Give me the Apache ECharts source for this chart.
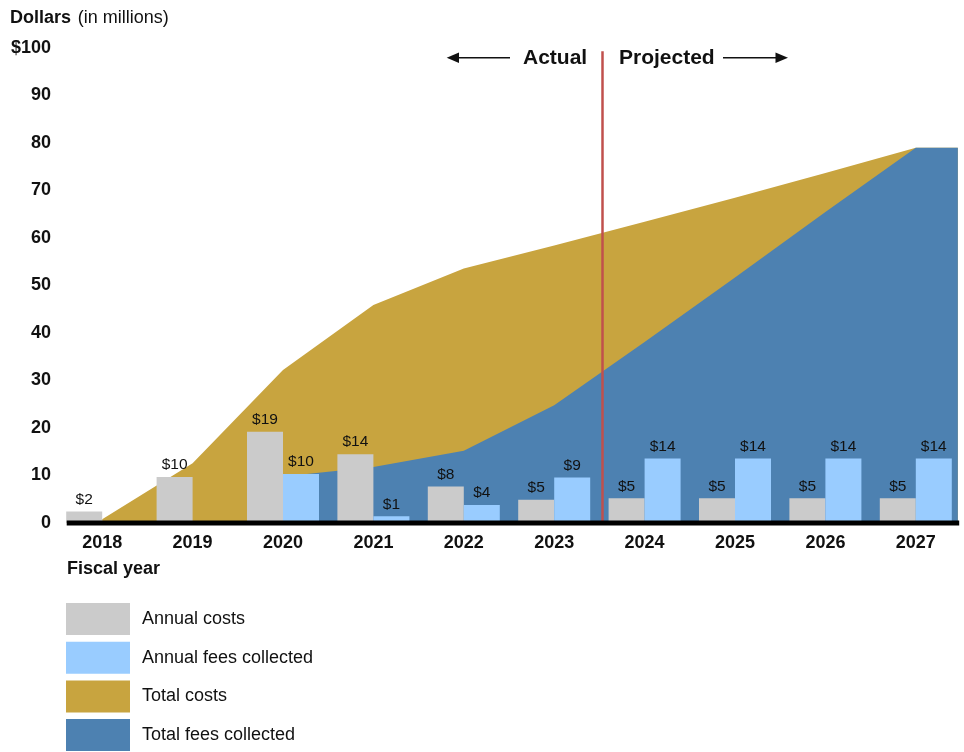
<!DOCTYPE html>
<html>
<head>
<meta charset="utf-8">
<script src="https://cdn.jsdelivr.net/npm/echarts@6/dist/echarts.min.js"></script>
<style>
html,body{margin:0;padding:0;background:#fff;}
#chart{width:964px;height:752px;}
</style>
</head>
<body>
<div id="chart"></div>
<script>
// ---- data ----
var years = ['2018','2019','2020','2021','2022','2023','2024','2025','2026','2027'];
var annualCosts = [2.4, 9.7, 19.2, 14.5, 7.7, 4.9, 5.2, 5.2, 5.2, 5.2];
var annualCostLabels = ['$2','$10','$19','$14','$8','$5','$5','$5','$5','$5'];
var annualFees = [null, null, 10.3, 1.4, 3.8, 9.6, 13.6, 13.6, 13.6, 13.6];
var annualFeeLabels = ['','','$10','$1','$4','$9','$14','$14','$14','$14'];
var totalCosts = [0.8, 12.6, 32.2, 45.9, 53.6, 58.4, 63.4, 68.5, 73.7, 79];
var totalFees = [null, null, 9.8, 11.8, 15.2, 24.8, 38.1, 51.7, 65.5, 79];
var yTicks = [0,10,20,30,40,50,60,70,80,90,100];
var areaEndX = 9.465;      // areas run flat past the last year to the right edge
var splitX = 5.535;        // Actual / Projected divider

var FONT = 'Liberation Sans, Arial, sans-serif';
var C_GRAY = '#cbcbcb', C_LBLUE = '#99ccff', C_GOLD = '#c8a43f', C_BLUE = '#4d81b1', C_RED = '#c0504d';

function toPairs(arr){
  var out = [];
  arr.forEach(function(v,i){ if(v!==null) out.push([i,v]); });
  out.push([areaEndX, arr[arr.length-1]]);
  return out;
}

var chart = echarts.init(document.getElementById('chart'), null, {renderer:'canvas'});
var option = {
  animation:false,
  backgroundColor:'#fff',
  grid:{left:57, right:3, top:48, bottom:229, containLabel:false},
  legend:{
    orient:'vertical', left:66, top:603, itemWidth:64, itemHeight:32, itemGap:6.7,
    padding:0, icon:'rect', selectedMode:false,
    textStyle:{fontFamily:FONT, fontSize:18, color:'#111', padding:[6,0,0,7]},
    data:['Annual costs','Annual fees collected','Total costs','Total fees collected']
  },
  xAxis:[
    {type:'category', data:years, gridIndex:0, boundaryGap:true,
     axisLine:{show:false}, axisTick:{show:false}, splitLine:{show:false},
     axisLabel:{fontFamily:FONT, fontSize:18, fontWeight:'bold', color:'#111', margin:11}},
    {type:'value', gridIndex:0, min:-0.5, max:9.5, show:false, position:'bottom'}
  ],
  yAxis:{type:'value', min:0, max:100, interval:10,
    axisLine:{show:false}, axisTick:{show:false}, splitLine:{show:false},
    axisLabel:{fontFamily:FONT, fontSize:18, fontWeight:'bold', color:'#111', margin:6,
      formatter:function(v){ return v===100 ? '$100' : String(v); }}},
  series:[
    {name:'Total costs', type:'line', xAxisIndex:1, data:toPairs(totalCosts),
     symbol:'none', lineStyle:{width:0}, itemStyle:{color:C_GOLD},
     areaStyle:{color:C_GOLD, opacity:1}, z:1, silent:true},
    {name:'Total fees collected', type:'line', xAxisIndex:1, data:toPairs(totalFees),
     symbol:'none', lineStyle:{width:0}, itemStyle:{color:C_BLUE},
     areaStyle:{color:C_BLUE, opacity:1}, z:2, silent:true,
     markLine:{silent:true, symbol:'none', label:{show:false},
       lineStyle:{color:C_RED, width:2.5, type:'solid'},
       data:[[{coord:[splitX, 99.3]},{coord:[splitX, 0]}]]}},
    {name:'Annual costs', type:'bar', xAxisIndex:0, data:annualCosts, barWidth:36, barGap:'0%',
     itemStyle:{color:C_GRAY}, z:3,
     label:{show:true, position:'top', distance:4, fontFamily:FONT, fontSize:15.5, color:'#111',
       formatter:function(p){ return annualCostLabels[p.dataIndex]; }}},
    {name:'Annual fees collected', type:'bar', xAxisIndex:0, data:annualFees, barWidth:36, barGap:'0%',
     itemStyle:{color:C_LBLUE}, z:3,
     label:{show:true, position:'top', distance:4, fontFamily:FONT, fontSize:15.5, color:'#111',
       formatter:function(p){ return annualFeeLabels[p.dataIndex]; }}}
  ],
  graphic:[
    {type:'text', left:10, top:9, z:10,
     style:{text:'{b|Dollars}  {n|(in millions)}', rich:{
       b:{fontFamily:FONT, fontSize:18, fontWeight:'bold', fill:'#111'},
       n:{fontFamily:FONT, fontSize:18, fill:'#111'}}}},
    {type:'text', left:67, top:560, z:10,
     style:{text:'Fiscal year', fontFamily:FONT, fontSize:18, fontWeight:'bold', fill:'#111'}},
    {type:'rect', z:20, shape:{x:66.7, y:520.5, width:892.5, height:5}, style:{fill:'#000'}},
    {type:'text', z:10, x:523, y:58.5, style:{text:'Actual', fontFamily:FONT, fontSize:21, fontWeight:'bold', fill:'#111', verticalAlign:'middle'}},
    {type:'text', z:10, x:619, y:58.5, style:{text:'Projected', fontFamily:FONT, fontSize:21, fontWeight:'bold', fill:'#111', verticalAlign:'middle'}},
    {type:'line', z:10, shape:{x1:456, y1:57.7, x2:510, y2:57.7}, style:{stroke:'#111', lineWidth:1.5}},
    {type:'polygon', z:10, shape:{points:[[446.7,57.7],[459,52.5],[459,63]]}, style:{fill:'#111'}},
    {type:'line', z:10, shape:{x1:723, y1:57.7, x2:778, y2:57.7}, style:{stroke:'#111', lineWidth:1.5}},
    {type:'polygon', z:10, shape:{points:[[788,57.7],[775.5,52.5],[775.5,63]]}, style:{fill:'#111'}}
  ]
};
chart.setOption(option);
</script>
</body>
</html>
